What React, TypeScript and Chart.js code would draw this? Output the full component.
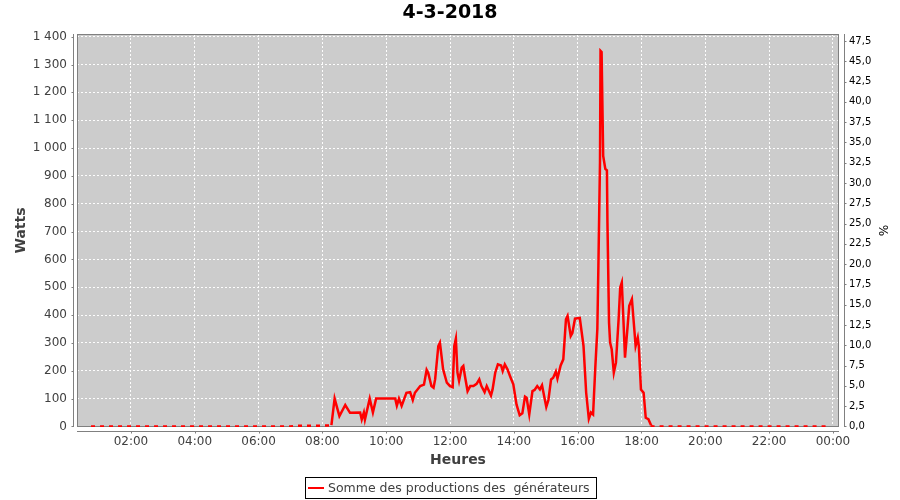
import React, { useEffect, useRef } from 'react';
import { Chart, registerables } from 'chart.js';

Chart.register(...registerables);

const TITLE = '4-3-2018';
const SERIES_LABEL = 'Somme des productions des  générateurs';
const Y_LEFT_TITLE = 'Watts';
const Y_RIGHT_TITLE = '%';
const X_TITLE = 'Heures';

// Sample times (HH:MM) and summed production (W)
const TIMES = [
  '00:45', '02:00', '04:00', '06:00', '07:00', '07:10', '08:00', '08:15', '08:17',
  '08:23', '08:32', '08:43', '08:52', '09:11', '09:14', '09:18', '09:20', '09:29',
  '09:35', '09:41', '10:17', '10:20', '10:24', '10:29', '10:38', '10:45', '10:50',
  '10:54', '11:04', '11:11', '11:16', '11:19', '11:25', '11:29', '11:32', '11:38',
  '11:41', '11:47', '11:54', '12:00', '12:05', '12:08', '12:11', '12:14', '12:17',
  '12:22', '12:25', '12:28', '12:33', '12:38', '12:44', '12:50', '12:55', '12:59',
  '13:05', '13:09', '13:17', '13:20', '13:25', '13:30', '13:36', '13:39', '13:43',
  '13:48', '13:54', '13:59', '14:05', '14:11', '14:16', '14:21', '14:24', '14:29',
  '14:35', '14:39', '14:44', '14:49', '14:53', '15:01', '15:05', '15:10', '15:14',
  '15:19', '15:22', '15:28', '15:33', '15:38', '15:41', '15:47', '15:50', '15:55',
  '16:04', '16:11', '16:16', '16:21', '16:25', '16:29', '16:33', '16:37', '16:39',
  '16:42', '16:43', '16:45', '16:48', '16:52', '16:55', '16:56', '16:59', '17:01',
  '17:04', '17:08', '17:12', '17:17', '17:20', '17:23', '17:26', '17:29', '17:34',
  '17:37', '17:42', '17:45', '17:49', '17:53', '17:55', '17:59', '18:04', '18:08',
  '18:13', '18:18', '18:20', '20:00', '22:00', '23:47',
];

const WATTS = [
  0, 0, 0, 0, 0, 2, 3, 3, 5,
  100, 37, 77, 49, 50, 25, 50, 25, 100,
  50, 100, 100, 75, 100, 74, 121, 123, 95,
  121, 145, 150, 203, 192, 145, 139, 169, 289,
  301, 205, 157, 145, 141, 289, 315, 193, 164,
  211, 217, 181, 127, 145, 145, 153, 169, 145,
  123, 145, 111, 133, 193, 223, 219, 199, 223,
  205, 175, 151, 79, 40, 47, 107, 103, 43,
  127, 131, 145, 133, 148, 70, 95, 169, 175,
  197, 172, 219, 241, 385, 397, 325, 335, 387,
  390, 289, 121, 28, 50, 43, 205, 350, 577,
  949, 1349, 1345, 972, 925, 920, 733, 373, 301,
  277, 193, 229, 385, 499, 517, 385, 247, 361,
  433, 457, 385, 289, 319, 289, 133, 121, 31,
  26, 4, 0, 0, 0, 0,
];

// Tick values
const X_TICKS = [2, 4, 6, 8, 10, 12, 14, 16, 18, 20, 22, 24];
const Y_LEFT_TICKS = [0, 100, 200, 300, 400, 500, 600, 700, 800, 900, 1000, 1100, 1200, 1300, 1400];
const Y_RIGHT_TICKS = [
  0, 2.5, 5, 7.5, 10, 12.5, 15, 17.5, 20, 22.5, 25, 27.5, 30, 32.5, 35, 37.5, 40, 42.5, 45, 47.5,
];

const X_MIN_HOURS = 0.31;
const X_MAX_HOURS = 24.19;
const Y_LEFT_MIN = -2;
const Y_LEFT_MAX = 1409.6;
const Y_RIGHT_MIN = -0.07;
const Y_RIGHT_MAX = 48.36;

const toHours = (s: string) => {
  const [h, m] = s.split(':').map(Number);
  return h + m / 60;
};

const fmtHour = (v: number) => {
  const h = Math.round(v) % 24;
  return String(h).padStart(2, '0') + ':00';
};

const fmtWatts = (v: number) => {
  const n = Math.round(v);
  if (n >= 1000) return `${Math.floor(n / 1000)} ${String(n % 1000).padStart(3, '0')}`;
  return String(n);
};

const fmtPct = (v: number) => v.toFixed(1).replace('.', ',');

const FONT = "'DejaVu Sans', sans-serif";

const decorPlugin = {
  id: 'decor',
  beforeDraw(chart: any) {
    const { ctx, chartArea: a } = chart;
    ctx.save();
    ctx.fillStyle = '#cccccc';
    ctx.fillRect(a.left, a.top, a.right - a.left, a.bottom - a.top);
    ctx.restore();
  },
  beforeDatasetsDraw(chart: any) {
    const { ctx, chartArea: a } = chart;
    ctx.save();
    ctx.strokeStyle = '#808080';
    ctx.lineWidth = 1;
    ctx.strokeRect(a.left + 0.5, a.top + 0.5, a.right - a.left - 1, a.bottom - a.top - 1);
    ctx.restore();
  },
  afterDraw(chart: any) {
    const { ctx, chartArea: a, scales } = chart;
    ctx.save();
    ctx.strokeStyle = '#808080';
    ctx.lineWidth = 1;
    const lx = Math.round(a.left - 4) + 0.5;
    const rx = Math.round(a.right + 5) + 0.5;
    const by = Math.round(a.bottom + 4) + 0.5;
    ctx.beginPath();
    ctx.moveTo(lx, a.top);
    ctx.lineTo(lx, a.bottom);
    ctx.moveTo(rx, a.top);
    ctx.lineTo(rx, a.bottom);
    ctx.moveTo(a.left, by);
    ctx.lineTo(a.right, by);
    scales.y.ticks.forEach((t: any) => {
      const py = Math.round(scales.y.getPixelForValue(t.value)) + 0.5;
      ctx.moveTo(lx - 2, py);
      ctx.lineTo(lx, py);
    });
    scales.y1.ticks.forEach((t: any) => {
      const py = Math.round(scales.y1.getPixelForValue(t.value)) + 0.5;
      ctx.moveTo(rx, py);
      ctx.lineTo(rx + 2, py);
    });
    scales.x.ticks.forEach((t: any) => {
      const px = Math.round(scales.x.getPixelForValue(t.value)) + 0.5;
      ctx.moveTo(px, by);
      ctx.lineTo(px, by + 2);
    });
    ctx.stroke();

    // legend box
    const boxX = 305.5;
    const boxY = 477.5;
    const boxW = 291;
    const boxH = 21;
    ctx.strokeStyle = '#000000';
    ctx.strokeRect(boxX, boxY, boxW, boxH);
    const cy = boxY + boxH / 2;
    ctx.strokeStyle = '#ff0000';
    ctx.lineWidth = 2;
    ctx.beginPath();
    ctx.moveTo(boxX + 2.5, cy);
    ctx.lineTo(boxX + 18.5, cy);
    ctx.stroke();
    ctx.fillStyle = '#404040';
    ctx.font = `12.5px ${FONT}`;
    ctx.textBaseline = 'middle';
    ctx.textAlign = 'left';
    ctx.fillText(SERIES_LABEL, boxX + 22.5, cy + 0.5);
    ctx.restore();
  },
};

const setTicks = (values: number[]) => (s: any) => {
  s.ticks = values.map((v) => ({ value: v }));
};

export default function App() {
  const canvasRef = useRef<HTMLCanvasElement | null>(null);

  useEffect(() => {
    if (!canvasRef.current) return;
    Chart.defaults.font.family = FONT;
    const data = TIMES.map((t, i) => ({ x: toHours(t), y: WATTS[i] }));
    const gridCommon = {
      color: 'rgba(255,255,255,0.95)',
      lineWidth: 1,
      drawTicks: false,
    };
    const chart = new Chart(canvasRef.current, {
      type: 'line',
      data: {
        datasets: [
          {
            label: SERIES_LABEL,
            data,
            borderColor: '#ff0000',
            backgroundColor: '#ff0000',
            borderWidth: 2.5,
            pointRadius: 0,
            tension: 0,
            fill: false,
            yAxisID: 'y',
            segment: {
              borderDash: (ctx: any) =>
                ctx.p0.parsed.y <= 5 && ctx.p1.parsed.y <= 5 ? [4, 5] : undefined,
            },
          },
        ],
      },
      options: {
        animation: false,
        responsive: false,
        events: [],
        layout: { padding: 0 },
        plugins: {
          legend: { display: false },
          tooltip: { enabled: false },
          title: {
            display: true,
            text: TITLE,
            color: '#000000',
            font: { size: 19, weight: 'bold', family: FONT },
            padding: { top: 2, bottom: 9.2 },
          },
        },
        scales: {
          x: {
            type: 'linear',
            min: X_MIN_HOURS,
            max: X_MAX_HOURS,
            grid: gridCommon,
            border: { display: false, dash: [2, 2] },
            afterBuildTicks: setTicks(X_TICKS),
            ticks: {
              autoSkip: false,
              maxRotation: 0,
              color: '#404040',
              font: { size: 12 },
              padding: 8,
              callback: (v: any) => fmtHour(Number(v)),
            },
            title: {
              display: true,
              text: X_TITLE,
              color: '#404040',
              font: { size: 14, weight: 'bold' },
              padding: { top: 0, bottom: 31.6 },
            },
            afterFit: (s: any) => {
              s.height = 73;
            },
          },
          y: {
            type: 'linear',
            position: 'left',
            min: Y_LEFT_MIN,
            max: Y_LEFT_MAX,
            grid: gridCommon,
            border: { display: false, dash: [2, 2] },
            afterBuildTicks: setTicks(Y_LEFT_TICKS),
            ticks: {
              autoSkip: false,
              color: '#404040',
              font: { size: 12 },
              padding: 10,
              callback: (v: any) => fmtWatts(Number(v)),
            },
            title: {
              display: true,
              text: Y_LEFT_TITLE,
              color: '#404040',
              font: { size: 14, weight: 'bold' },
              padding: { top: 12.6, bottom: 0 },
            },
            afterFit: (s: any) => {
              s.width = 77;
            },
          },
          y1: {
            type: 'linear',
            position: 'right',
            min: Y_RIGHT_MIN,
            max: Y_RIGHT_MAX,
            grid: { display: false, drawTicks: false },
            border: { display: false },
            afterBuildTicks: setTicks(Y_RIGHT_TICKS),
            ticks: {
              autoSkip: false,
              color: '#000000',
              font: { size: 10 },
              padding: 10,
              callback: (v: any) => fmtPct(Number(v)),
            },
            title: {
              display: true,
              text: Y_RIGHT_TITLE,
              color: '#000000',
              font: { size: 12 },
              padding: { top: 10.8, bottom: 0 },
            },
            afterFit: (s: any) => {
              s.width = 61;
            },
          },
        },
      } as any,
      plugins: [decorPlugin],
    });
    return () => chart.destroy();
  }, []);

  return (
    <div style={{ position: 'fixed', left: 0, top: 0, width: 900, height: 500, background: '#ffffff' }}>
      <canvas ref={canvasRef} width={900} height={500} style={{ display: 'block' }} />
    </div>
  );
}
